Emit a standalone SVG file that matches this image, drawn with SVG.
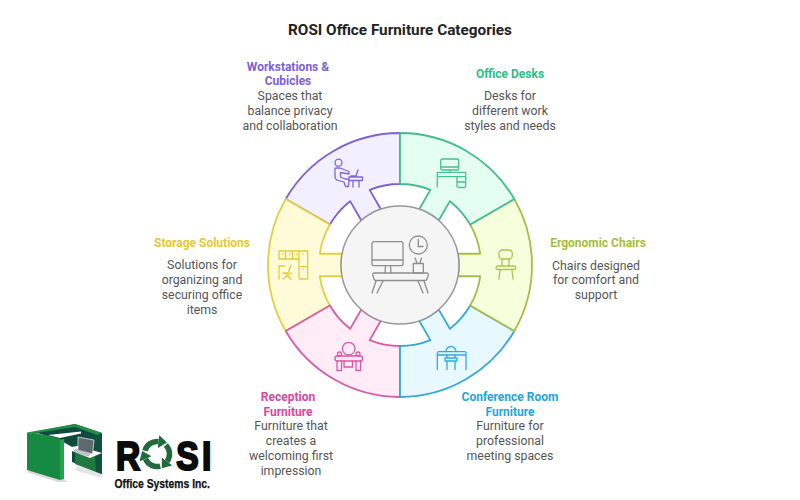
<svg xmlns="http://www.w3.org/2000/svg" width="800" height="500" viewBox="0 0 800 500">
<style>
text{font-family:Roboto,"Liberation Sans",sans-serif;text-anchor:middle}
.title{font-size:15.3px;font-weight:700;fill:#222}
.h{font-size:12px;font-weight:700}
.b{font-size:12.3px;fill:#555}
.seg{stroke-width:1.8;stroke-linejoin:round}
.ic{fill:none;stroke-width:1.3;stroke-linecap:round;stroke-linejoin:round}
.purple{fill:#F2EFFF;stroke:#7B62CF}.c-purple{fill:#7B5FD6}.i-purple{stroke:#8066D6}
.yellow{fill:#FFFBD8;stroke:#E2CE45}.c-yellow{fill:#E3C92E}.i-yellow{stroke:#E3CB35}
.pink{fill:#FFECF7;stroke:#D85CA5}.c-pink{fill:#D648A2}.i-pink{stroke:#DB55A8}
.blue{fill:#E8F8FF;stroke:#35A8D4}.c-blue{fill:#1FA6D8}.i-blue{stroke:#35A8D8}
.lime{fill:#F5FFDC;stroke:#A5BD4B}.c-lime{fill:#A4BE39}.i-lime{stroke:#ABC24F}
.green{fill:#E4FFF2;stroke:#45BC8F}.c-green{fill:#2BBF86}.i-green{stroke:#45C193}
</style>
<defs>
<path id="sector" d="M0,-132A132,132 0 0 1 114.3,-66L70.15,-40.5A81,81 0 0 0 49.87,-63.83L38.7,-44.5A59,59 0 0 0 19.2,-55.8L30.34,-75.1A81,81 0 0 0 0,-81Z"/>
<marker id="rh" markerUnits="userSpaceOnUse" markerWidth="12" markerHeight="14" refX="0" refY="7" orient="auto"><path d="M0,0.500L8.500,7L0,13.500Z" fill="#1F6B3C"/></marker>
<path id="ra" d="M-12.07,-3.24A12.5,12.5 0 0 1 1.5,-12.4" fill="none" stroke="#1F6B3C" stroke-width="5.500" marker-end="url(#rh)"/>
</defs>
<rect width="800" height="500" fill="#fff"/>
<text class="title" x="400" y="35">ROSI Office Furniture Categories</text>

<g id="sectors">
<use href="#sector" class="seg purple" transform="translate(400 265) rotate(300)"/>
<use href="#sector" class="seg yellow" transform="translate(400 265) rotate(240)"/>
<use href="#sector" class="seg pink" transform="translate(400 265) rotate(180)"/>
<use href="#sector" class="seg blue" transform="translate(400 265) rotate(120)"/>
<use href="#sector" class="seg lime" transform="translate(400 265) rotate(60)"/>
<use href="#sector" class="seg green" transform="translate(400 265)"/>
</g>

<g id="hub">
<circle cx="400" cy="265" r="59" fill="#F5F5F5" stroke="#999" stroke-width="1.5"/>
<g class="ic" stroke="#8E8E8E">
<rect x="372" y="241.7" width="31" height="24" rx="2"/>
<path d="M372 260H403M385.500 266L385 273M390.500 266L391 273"/>
<circle cx="418.300" cy="245" r="9"/>
<path d="M418.300 239.500V246.500H423"/>
<path d="M413.300 263.500H423.300V273H413.300ZM417 263L415 258M420 263L421.500 258"/>
<path d="M374 273H427Q428.500 273 428.300 275L427 279Q426.500 280.500 425 280.500H376Q374.500 280.500 374 279L372.800 275Q372.500 273 374 273Z"/>
<path d="M376 281L372 293M383 281L377 293M418 281L423 293M424 281L428 293"/>
</g>
</g>

<g id="workstations">
<g class="ic i-purple">
<circle cx="338.500" cy="162.700" r="3.500"/>
<path d="M336 168H340L349 171.500V174L340.500 172.500V177L345 179H347.500Q349 179 349 181L348.500 186.500H345.500L344 182L337 180Q335 179.500 335 177V169Q335 168 336 168Z"/>
<path d="M349 177H362.500V180.500H349ZM353 180.500V187M359 180.500V187M351 176H356L358 170"/>
</g>
<text class="h c-purple" x="288" y="71">Workstations &amp;</text>
<text class="h c-purple" x="288" y="85">Cubicles</text>
<text class="b" x="290" y="100">Spaces that</text>
<text class="b" x="290" y="115">balance privacy</text>
<text class="b" x="290" y="130">and collaboration</text>
</g>

<g id="desks">
<g class="ic i-green">
<rect x="440.700" y="159" width="18" height="11" rx="1.500"/>
<path d="M441 167H458M450 170V172.300"/>
<path d="M437.300 172.300H465.700V176.700H437.300ZM437.300 176.700V187M457 176.700V186Q457 187.500 458.500 187.500H464Q465.700 187.500 465.700 186V176.700M457 182H465.700"/>
</g>
<text class="h c-green" x="510" y="78">Office Desks</text>
<text class="b" x="510" y="100">Desks for</text>
<text class="b" x="510" y="115">different work</text>
<text class="b" x="510" y="130">styles and needs</text>
</g>

<g id="chairs">
<g class="ic i-lime">
<rect x="499" y="250" width="13.300" height="9" rx="3.500"/>
<path d="M502 259V266M509 259V266M497.500 266H514Q516 266 515.700 268Q515.500 269.500 514 269.500H497.500Q496 269.500 496 268Q496 266 497.500 266ZM500 270L499 279M512 270L513 279"/>
</g>
<text class="h c-lime" x="598" y="247">Ergonomic Chairs</text>
<text class="b" x="596" y="270">Chairs designed</text>
<text class="b" x="596" y="284">for comfort and</text>
<text class="b" x="596" y="299">support</text>
</g>

<g id="conference">
<g class="ic i-blue">
<path d="M446 351.500A5 5 0 0 1 456 351.500"/>
<path d="M439 351.700H464.500Q466 351.700 466 353.500V369.500M439 351.700Q437.300 351.700 437.300 353.500V369.500M437.300 355H466"/>
<path d="M447 355V358M455 355V358M445 358H457V361H445ZM447 361V369.500M455 361V369.500"/>
</g>
<text class="h c-blue" x="510" y="401">Conference Room</text>
<text class="h c-blue" x="510" y="416">Furniture</text>
<text class="b" x="510" y="430">Furniture for</text>
<text class="b" x="510" y="445">professional</text>
<text class="b" x="510" y="460">meeting spaces</text>
</g>

<g id="reception">
<g class="ic i-pink">
<circle cx="348.700" cy="348.700" r="6.300"/>
<circle cx="339.500" cy="354" r="2"/>
<circle cx="358" cy="354" r="2"/>
<rect x="335" y="356" width="27.500" height="5" rx="2.200"/>
<path d="M337 361V370.500H341.500V361M356 361V370.500H360.500V361M344 361V367H352.500V361"/>
</g>
<text class="h c-pink" x="288" y="401">Reception</text>
<text class="h c-pink" x="288" y="416">Furniture</text>
<text class="b" x="291" y="430">Furniture that</text>
<text class="b" x="291" y="445">creates a</text>
<text class="b" x="291" y="460">welcoming first</text>
<text class="b" x="291" y="475">impression</text>
</g>

<g id="storage">
<g class="ic i-yellow">
<path d="M279 251H307.700V278Q307.700 279 306.700 279H300Q299 279 299 278V259H279ZM285.500 251V259M292.300 251V259M299 251V259M299 266.700H307.700"/>
<path d="M283 254V254.500M289.700 254V254.500M296.300 254V254.500M303 254V254.500M303 269V269.500"/>
<path d="M279 279V266H285M291 265L288 273H283M283 279L291 273M285 273L291 279"/>
</g>
<text class="h c-yellow" x="202" y="247">Storage Solutions</text>
<text class="b" x="202" y="269">Solutions for</text>
<text class="b" x="202" y="284">organizing and</text>
<text class="b" x="202" y="299">securing office</text>
<text class="b" x="202" y="314">items</text>
</g>

<g id="logo">
<path d="M26 472L58 482L68 482L40 466Z" fill="#aaa" opacity=".45"/>
<path d="M78 466L102 474L102 478L74 470Z" fill="#bbb" opacity=".4"/>
<path d="M34 432L75 424L102 433V474L72 462V447L60 440Z" fill="#0F4A3E"/>
<path d="M75 445L96 452V472L75 464Z" fill="#1E7A3E"/>
<path d="M94 435L102 433V474L96 472Z" fill="#12503F"/>
<path d="M27 432.500L75 424L102 433L97 435L75 427L36 433L61 439V442Z" fill="#1F8F45"/>
<path d="M48 435L81 431.500V433.500L60 438Z" fill="#fff"/>
<path d="M27 432.500L60 440V480L27 470Z" fill="#168A42"/>
<path d="M60 440L64 439V479L60 480Z" fill="#27A24F"/>
<path d="M64 448L78 446L102 453L90 458Z" fill="#fff"/>
<path d="M78 437L94 440L92.500 454L78 450Z" fill="#5C6A70" stroke="#dfe4e6" stroke-width=".8"/>
<path d="M76 449L90 454L88 456L74 451Z" fill="#c9cfd2" stroke="#667" stroke-width=".4"/>
<use href="#ra" transform="translate(157 454)"/>
<use href="#ra" transform="translate(157 454) rotate(120)"/>
<use href="#ra" transform="translate(157 454) rotate(240)"/>
<text transform="translate(116 469.500) scale(.82 1)" x="0 40 73.500 105" y="0" style="font-family:'Liberation Sans',sans-serif;font-size:41px;font-weight:700;text-anchor:start" fill="#0b0b0b" stroke="#0b0b0b" stroke-width="2.200">R<tspan fill="none" stroke="none">O</tspan>SI</text>
<text x="114.500" y="488" textLength="95.500" lengthAdjust="spacingAndGlyphs" style="font-family:'Liberation Sans',sans-serif;font-size:13px;font-weight:700;text-anchor:start" fill="#111" stroke="#111" stroke-width=".25">Office Systems Inc.</text>
</g>
</svg>
